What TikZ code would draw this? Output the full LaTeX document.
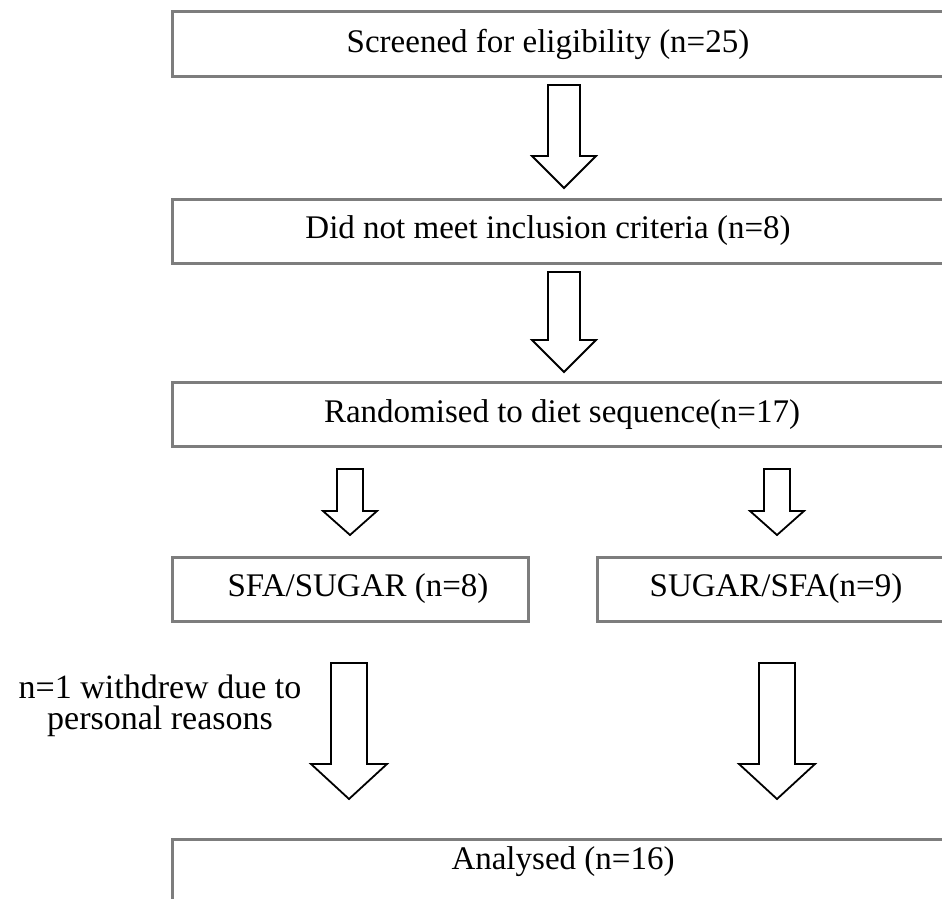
\documentclass[tikz,border=0pt]{standalone}
\usepackage{fontspec}
\setmainfont{Liberation Serif}
\usepackage{tikz}
\usetikzlibrary{calc}
\definecolor{boxgray}{RGB}{125,125,125}
\tikzstyle{stagebox}=[rectangle,draw=boxgray,line width=3pt,
                      inner sep=0pt,fill=white]
\tikzstyle{stagetext}=[inner sep=0pt,font=\fontsize{33}{32}\selectfont]
\tikzstyle{arrowline}=[draw=black,line width=1.8pt,fill=white,
                       line join=miter]

\begin{document}
\begin{tikzpicture}[x=1pt,y=-1pt]
    % #1 top, #2 tip, #3 half shaft, #4 half head, #5 head length
    \newcommand{\blockarrow}[5]{%
      \draw[arrowline] ($(#1)+(-#3,0)$) -- ($(#1)+(#3,0)$)
        -- ($(#2)+(#3,-#5)$) -- ($(#2)+(#4,-#5)$) -- (#2)
        -- ($(#2)+(-#4,-#5)$) -- ($(#2)+(-#3,-#5)$) -- cycle;}
    \useasboundingbox (0,0) rectangle (942,899);
    \clip (0,0) rectangle (942,899);
    % boxes
    \node (screen) at (566,44) [stagebox,minimum width=788,minimum height=64]{};
    \node (notmet) at (566,231) [stagebox,minimum width=788,minimum height=64]{};
    \node (random) at (566,414.5) [stagebox,minimum width=788,minimum height=64]{};
    \node (sfasug) at (350,589) [stagebox,minimum width=356,minimum height=64]{};
    \node (sugsfa) at (778.5,589) [stagebox,minimum width=363,minimum height=64]{};
    \node (analys) at (566,872) [stagebox,minimum width=788,minimum height=66]{};
    % texts
    \node (screentxt) at (548,44) [stagetext]{Screened for eligibility (n=25)};
    \node (notmettxt) at (548,231) [stagetext]{Did not meet inclusion criteria (n=8)};
    \node (randomtxt) at (562,414.5) [stagetext]{Randomised to diet sequence(n=17)};
    \node (sfasugtxt) at (358,589) [stagetext]{SFA/SUGAR (n=8)};
    \node (sugsfatxt) at (776,589) [stagetext]{SUGAR/SFA(n=9)};
    \node (analystxt) at (563,862) [stagetext]{Analysed (n=16)};
    \node (withdrew) at (160,706) [stagetext,align=center,
          font=\fontsize{34}{31}\selectfont]
          {n=1 withdrew due to\\personal reasons};
    % arrows
    \coordinate (a1) at (564,85);   \coordinate (a1t) at (564,188);
    \coordinate (a2) at (564,272);  \coordinate (a2t) at (564,372);
    \coordinate (a3) at (350,469);  \coordinate (a3t) at (350,535);
    \coordinate (a4) at (777,469);  \coordinate (a4t) at (777,535);
    \coordinate (a5) at (349,663);  \coordinate (a5t) at (349,799);
    \coordinate (a6) at (777,663);  \coordinate (a6t) at (777,799);
    \blockarrow{a1}{a1t}{16}{32}{32}
    \blockarrow{a2}{a2t}{16}{32}{32}
    \blockarrow{a3}{a3t}{13}{27}{24}
    \blockarrow{a4}{a4t}{13}{27}{24}
    \blockarrow{a5}{a5t}{18}{38}{35}
    \blockarrow{a6}{a6t}{18}{38}{35}
\end{tikzpicture}
\end{document}
